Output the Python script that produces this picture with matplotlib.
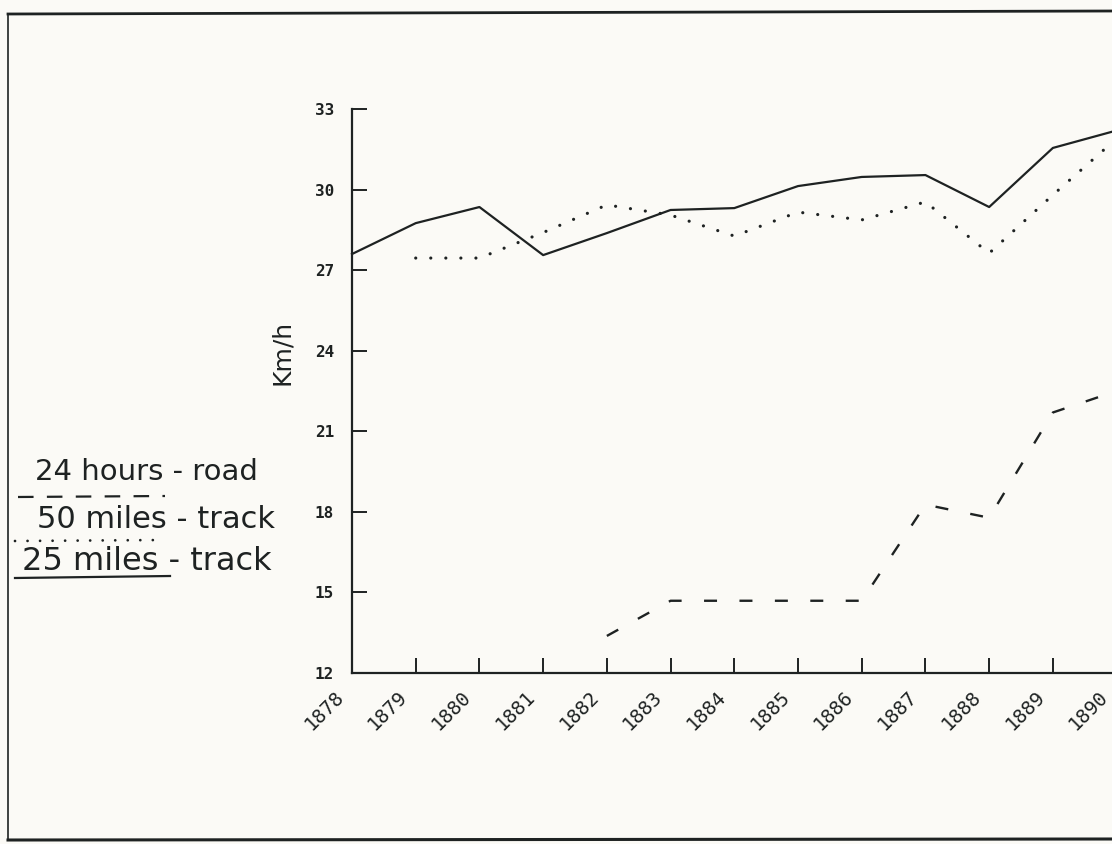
import matplotlib
matplotlib.use("Agg")
import matplotlib.pyplot as plt
from matplotlib.lines import Line2D
from matplotlib.transforms import ScaledTranslation

# ---- data ----
years = [1878, 1879, 1880, 1881, 1882, 1883, 1884, 1885, 1886, 1887, 1888, 1889, 1890]
miles25_track = [27.60, 28.75, 29.35, 27.56, 28.38, 29.24, 29.31, 30.13, 30.47, 30.54, 29.35, 31.55, 32.2]
years_50 = [1879, 1880, 1881, 1882, 1883, 1884, 1885, 1886, 1887, 1888, 1889, 1890]
miles50_track = [27.45, 27.45, 28.4, 29.43, 29.05, 28.27, 29.16, 28.87, 29.54, 27.63, 29.8, 31.9]
years_24 = [1882, 1883, 1884, 1885, 1886, 1887, 1888, 1889, 1890]
hours24_road = [13.38, 14.69, 14.69, 14.69, 14.69, 18.27, 17.78, 21.7, 22.5]
y_ticks = [12, 15, 18, 21, 24, 27, 30, 33]
y_label = "Km/h"
legend_texts = ["24 hours - road", "50 miles - track", "25 miles - track"]

W, H = 1112, 844
paper = "#fbfaf6"
ink = "#1e2222"

fig = plt.figure(figsize=(W / 100, H / 100), dpi=100, facecolor=paper)

# scanned page frame
fig.add_artist(Line2D([8 / W, 8 / W], [1 - 14 / H, 1 - 840 / H], transform=fig.transFigure, color=ink, lw=1.2))
fig.add_artist(Line2D([8 / W, 1.0], [1 - 14 / H, 1 - 11 / H], transform=fig.transFigure, color=ink, lw=2.0))
fig.add_artist(Line2D([8 / W, 1.0], [1 - 840 / H, 1 - 839 / H], transform=fig.transFigure, color=ink, lw=2.2))

x0, x1 = 352, 1116.6
yb, yt = 673, 109
ax = fig.add_axes([x0 / W, 1 - yb / H, (x1 - x0) / W, (yb - yt) / H])
ax.patch.set_visible(False)

ax.plot(years, miles25_track, color=ink, lw=1.6, solid_joinstyle="round", clip_on=False)
ax.plot(years_50, miles50_track, color=ink, lw=2.3, linestyle=(0, (0.01, 4.7)),
        dash_capstyle="round", clip_on=False)
ax.plot(years_24, hours24_road, color=ink, lw=1.7, linestyle=(0, (5.5, 9.5)), clip_on=False)

ax.set_xlim(1878, 1890)
ax.set_ylim(12, 33)
for s in ["top", "right"]:
    ax.spines[s].set_visible(False)
for s in ["left", "bottom"]:
    ax.spines[s].set_color(ink)
    ax.spines[s].set_linewidth(1.6)

ax.set_yticks(y_ticks)
ax.set_yticklabels([str(v) for v in y_ticks], family="DejaVu Sans Mono", fontweight="bold",
                   fontsize=11.5, color=ink)
ax.set_xticks(years)
ax.set_xticklabels([str(y) for y in years], family="DejaVu Sans Mono", fontsize=14,
                   color=ink, rotation=45, ha="right", va="top", rotation_mode="anchor")
ax.tick_params(axis="y", direction="in", length=11, width=1.4, color=ink, pad=13)
ax.tick_params(axis="x", direction="in", length=11, width=1.4, color=ink, pad=10)
shift = ScaledTranslation(-18 / 100, 0, fig.dpi_scale_trans)
for lab in ax.get_xticklabels():
    lab.set_transform(lab.get_transform() + shift)

ax.set_ylabel(y_label, fontsize=18, color=ink)
ax.yaxis.set_label_coords((294 - x0) / (x1 - x0), (yb - 352) / (yb - yt))

# handwritten legend
fig.text(35 / W, 1 - 472 / H, legend_texts[0], fontsize=21, color=ink, va="center", ha="left")
fig.text(37 / W, 1 - 519 / H, legend_texts[1], fontsize=22, color=ink, va="center", ha="left")
fig.text(22 / W, 1 - 561 / H, legend_texts[2], fontsize=23, color=ink, va="center", ha="left")
fig.add_artist(Line2D([18 / W, 165 / W], [1 - 497 / H, 1 - 496 / H], transform=fig.transFigure,
                      color=ink, lw=1.6, linestyle=(0, (7, 6))))
fig.add_artist(Line2D([15 / W, 165 / W], [1 - 541 / H, 1 - 540 / H], transform=fig.transFigure,
                      color=ink, lw=2.0, linestyle=(0, (0.01, 4.5)), dash_capstyle="round"))
fig.add_artist(Line2D([15 / W, 170 / W], [1 - 578 / H, 1 - 576 / H], transform=fig.transFigure,
                      color=ink, lw=1.6))

fig.savefig("out.png", dpi=100, facecolor=paper)
